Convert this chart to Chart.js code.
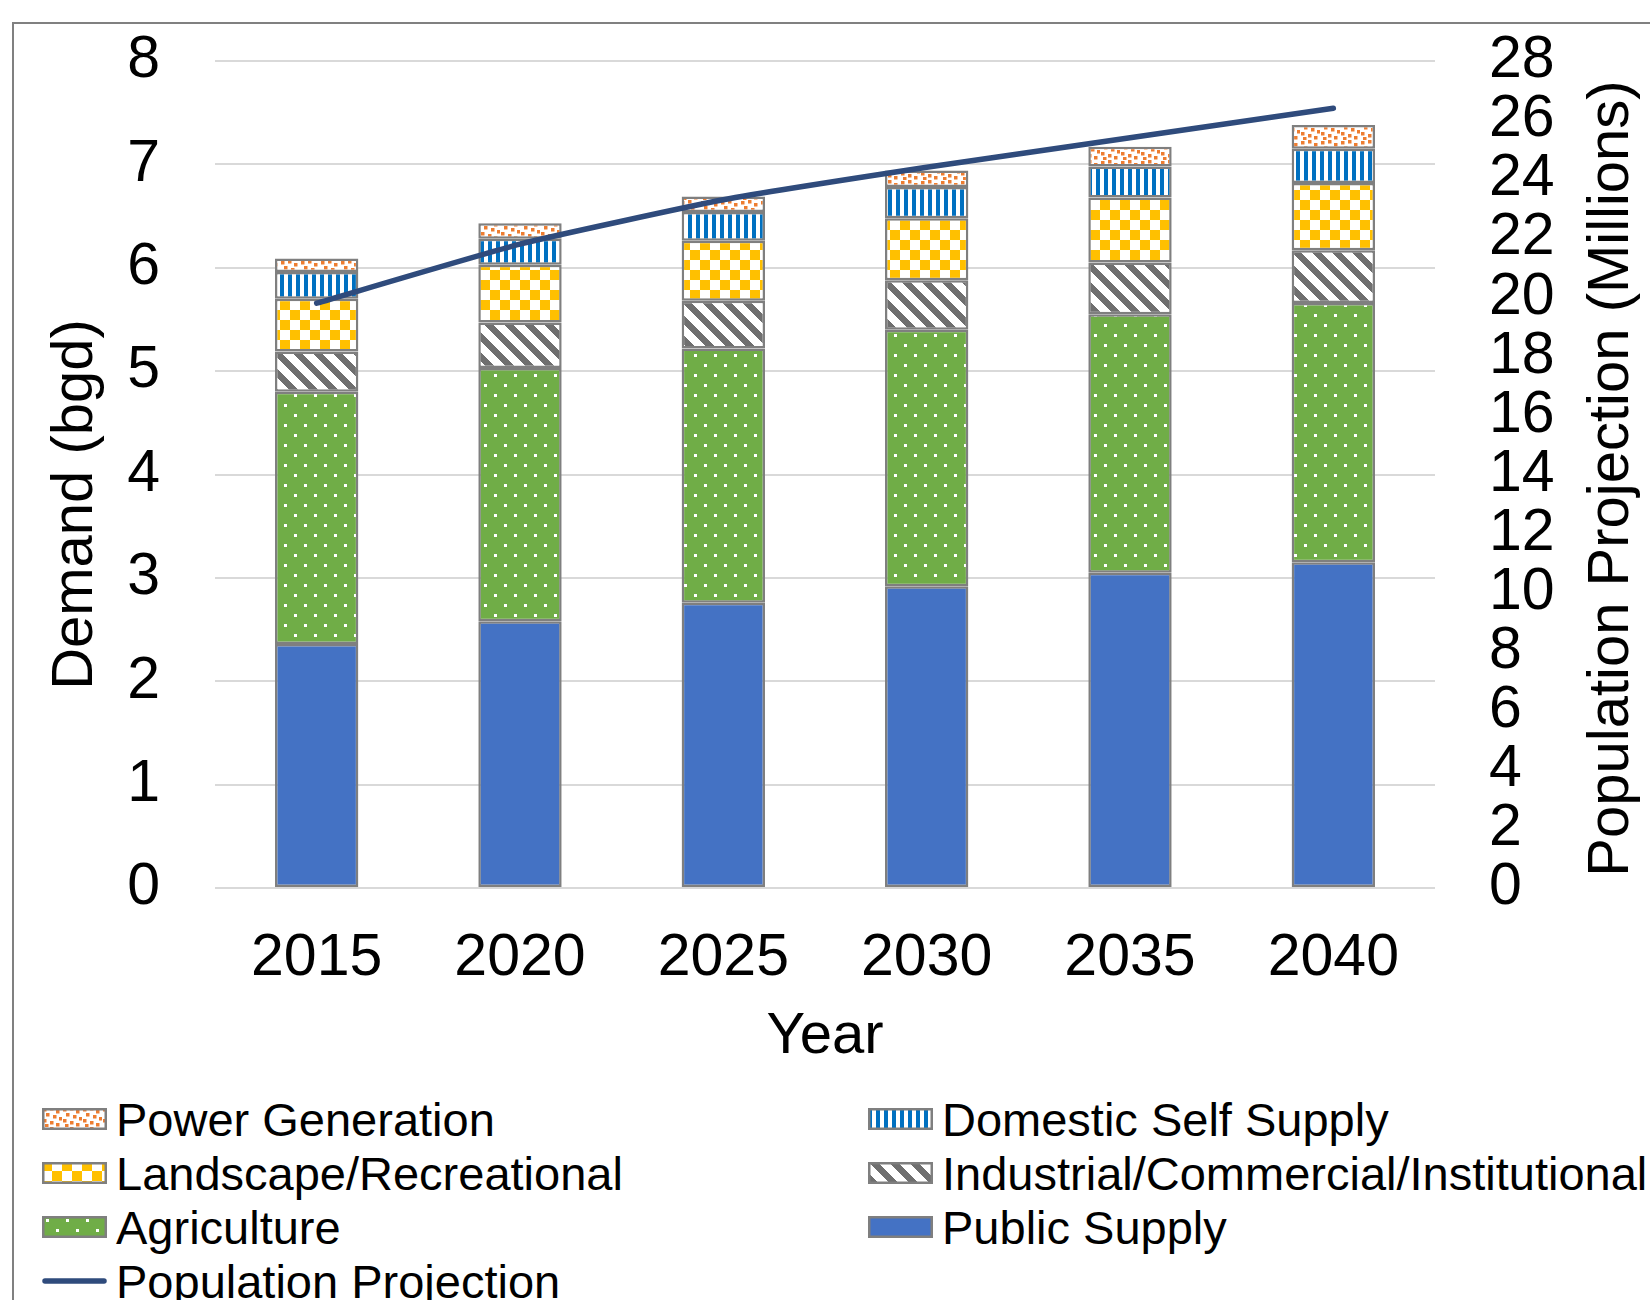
<!DOCTYPE html>
<html>
<head>
<meta charset="utf-8">
<script src="https://cdn.jsdelivr.net/npm/chart.js@4.4.1/dist/chart.umd.min.js"></script>
<style>
  html, body { margin: 0; padding: 0; background: #fff; width: 1650px; height: 1300px; overflow: hidden; }
  #frame { position: absolute; left: 12px; top: 22px; width: 1700px; height: 1400px;
           border-left: 2px solid #808080; border-top: 2px solid #808080; }
  #chart { position: absolute; left: 0; top: 0; }
  .lg-item { position: absolute; height: 54px; display: flex; align-items: center;
             font-family: "Liberation Sans", Arial, sans-serif; font-size: 47px; color: #000; white-space: nowrap; }
  .lg-item canvas { margin-right: 9px; }
</style>
</head>
<body>
<div id="frame"></div>
<canvas id="chart" width="1650" height="1072"></canvas>
<div id="legend"></div>
<script>
// ---- Data ----
const years = ['2015', '2020', '2025', '2030', '2035', '2040'];
const publicSupply = [2.36, 2.58, 2.76, 2.92, 3.05, 3.15];
const agriculture = [2.44, 2.45, 2.46, 2.48, 2.50, 2.51];
const industrial = [0.39, 0.44, 0.46, 0.48, 0.50, 0.51];
const landscape = [0.51, 0.56, 0.58, 0.60, 0.63, 0.65];
const domestic = [0.26, 0.25, 0.28, 0.30, 0.30, 0.33];
const powerGen = [0.13, 0.15, 0.15, 0.16, 0.19, 0.23];
const population = [19.8, 21.8, 23.3, 24.4, 25.4, 26.4];
const leftTicks = [0, 1, 2, 3, 4, 5, 6, 7, 8];
const rightTicks = [0, 2, 4, 6, 8, 10, 12, 14, 16, 18, 20, 22, 24, 26, 28];

const FONT = '"Liberation Sans", Arial, sans-serif';

// ---- Patterns ----
function makeTile(kind) {
  const c = document.createElement('canvas');
  const g = c.getContext('2d');
  if (kind === 'confetti') {
    c.width = 20; c.height = 20;
    g.fillStyle = '#ffffff'; g.fillRect(0, 0, 20, 20);
    g.fillStyle = '#ED7D31';
    [[1, 1], [8, 0], [14, 3], [4, 6], [11, 8], [17, 10], [1, 12], [8, 14], [14, 16], [3, 17]]
      .forEach(([x, y]) => g.fillRect(x, y, 3.5, 3.5));
  } else if (kind === 'vstripe') {
    c.width = 8; c.height = 8;
    g.fillStyle = '#ffffff'; g.fillRect(0, 0, 8, 8);
    g.fillStyle = '#0070C0'; g.fillRect(0, 0, 4, 8);
  } else if (kind === 'checker') {
    c.width = 20; c.height = 20;
    g.fillStyle = '#ffffff'; g.fillRect(0, 0, 20, 20);
    g.fillStyle = '#FFC000'; g.fillRect(0, 0, 10, 10); g.fillRect(10, 10, 10, 10);
  } else if (kind === 'diag') {
    c.width = 20; c.height = 20;
    g.fillStyle = '#ffffff'; g.fillRect(0, 0, 20, 20);
    g.fillStyle = '#6f6f6f';
    for (let y = 0; y < 20; y++) {
      for (let x = 0; x < 20; x++) {
        if ((((x - y) % 20) + 20) % 20 < 9) g.fillRect(x, y, 1, 1);
      }
    }
  } else if (kind === 'dots') {
    c.width = 20; c.height = 20;
    g.fillStyle = '#70AD47'; g.fillRect(0, 0, 20, 20);
    g.fillStyle = '#ffffff'; g.fillRect(4, 4, 3, 3); g.fillRect(14, 14, 3, 3);
  } else {
    c.width = 4; c.height = 4;
    g.fillStyle = '#4472C4'; g.fillRect(0, 0, 4, 4);
  }
  return c;
}
const ctx = document.getElementById('chart').getContext('2d');
function pat(kind) { return ctx.createPattern(makeTile(kind), 'repeat'); }

const BORDER = '#7f7f7f';
const barBase = { type: 'bar', yAxisID: 'y', borderColor: BORDER, borderWidth: 2.5, borderSkipped: false,
                  barPercentage: 0.41, categoryPercentage: 1.0, order: 1 };

const seriesDefs = [
  { label: 'Public Supply', data: publicSupply, kind: 'solid' },
  { label: 'Agriculture', data: agriculture, kind: 'dots' },
  { label: 'Industrial/Commercial/Institutional', data: industrial, kind: 'diag' },
  { label: 'Landscape/Recreational', data: landscape, kind: 'checker' },
  { label: 'Domestic Self Supply', data: domestic, kind: 'vstripe' },
  { label: 'Power Generation', data: powerGen, kind: 'confetti' }
];

const datasets = seriesDefs.map(s => Object.assign({}, barBase, {
  label: s.label, data: s.data,
  backgroundColor: s.kind === 'solid' ? '#4472C4' : pat(s.kind)
}));
datasets.push({
  type: 'line', label: 'Population Projection', data: population, yAxisID: 'y2',
  borderColor: '#2F4B7C', borderWidth: 5.5, pointRadius: 0, tension: 0.15, fill: false,
  borderCapStyle: 'round', order: 0
});

const TITLE_SIZE = 58;
const titlePlugin = {
  id: 'axisTitles',
  afterDraw(chart) {
    const c = chart.ctx, a = chart.chartArea;
    c.save();
    c.font = TITLE_SIZE + 'px ' + FONT;
    c.fillStyle = '#000';
    c.textAlign = 'center';
    c.textBaseline = 'middle';
    c.translate(a.left - 139, (a.top + a.bottom) / 2 + 30);
    c.rotate(-Math.PI / 2);
    c.fillText('Demand (bgd)', 0, 0);
    c.restore();
    c.save();
    c.font = TITLE_SIZE + 'px ' + FONT;
    c.fillStyle = '#000';
    c.textAlign = 'center';
    c.textBaseline = 'middle';
    c.translate(a.right + 177, (a.top + a.bottom) / 2 + 4);
    c.rotate(-Math.PI / 2);
    c.fillText('Population Projection (Millions)', 0, 0);
    c.restore();
  }
};

function fixY(s) { s.width = 215; s.paddingTop = 20; s.paddingBottom = 20; }

new Chart(ctx, {
  data: { labels: years, datasets: datasets },
  options: {
    responsive: false,
    animation: false,
    layout: { padding: { top: 61, left: 0, right: 0, bottom: 0 } },
    plugins: { legend: { display: false }, tooltip: { enabled: false } },
    scales: {
      x: {
        stacked: true,
        grid: { display: false, drawTicks: false },
        border: { display: false },
        ticks: { color: '#000', font: { family: FONT, size: 59 }, padding: 35 },
        title: { display: true, text: 'Year', color: '#000', font: { family: FONT, size: TITLE_SIZE }, padding: 0 },
        afterFit: s => { s.height = 184; }
      },
      y: {
        stacked: true, position: 'left', min: 0, max: 8,
        afterBuildTicks: s => { s.ticks = leftTicks.map(v => ({ value: v })); },
        ticks: { color: '#000', font: { family: FONT, size: 59 }, padding: 55, autoSkip: false },
        grid: { color: '#d9d9d9', lineWidth: 2, drawTicks: false },
        border: { display: false },
        afterFit: fixY
      },
      y2: {
        position: 'right', min: 0, max: 28,
        afterBuildTicks: s => { s.ticks = rightTicks.map(v => ({ value: v })); },
        ticks: { color: '#000', font: { family: FONT, size: 59, lineHeight: 1 }, padding: 54, autoSkip: false },
        grid: { display: false, drawTicks: false },
        border: { display: false },
        afterFit: fixY
      }
    }
  },
  plugins: [titlePlugin]
});

// ---- HTML legend ----
const legendOrder = [
  ['Power Generation', 'confetti', 0, 0], ['Domestic Self Supply', 'vstripe', 1, 0],
  ['Landscape/Recreational', 'checker', 0, 1], ['Industrial/Commercial/Institutional', 'diag', 1, 1],
  ['Agriculture', 'dots', 0, 2], ['Public Supply', 'solid', 1, 2],
  ['Population Projection', 'line', 0, 3]
];
const colX = [42, 868];
const rowY = [1092, 1146, 1200, 1254];
const lg = document.getElementById('legend');
legendOrder.forEach(([label, kind, col, row]) => {
  const div = document.createElement('div');
  div.className = 'lg-item';
  div.style.left = colX[col] + 'px';
  div.style.top = rowY[row] + 'px';
  const sw = document.createElement('canvas');
  sw.width = 65; sw.height = 24;
  const g = sw.getContext('2d');
  if (kind === 'line') {
    g.strokeStyle = '#2F4B7C'; g.lineWidth = 5.5; g.lineCap = 'round';
    g.beginPath(); g.moveTo(3, 12); g.lineTo(62, 12); g.stroke();
  } else {
    g.fillStyle = kind === 'solid' ? '#4472C4' : g.createPattern(makeTile(kind), 'repeat');
    g.fillRect(0, 1, 65, 22);
    g.strokeStyle = BORDER; g.lineWidth = 2.5;
    g.strokeRect(1.25, 2.25, 62.5, 19.5);
  }
  div.appendChild(sw);
  const sp = document.createElement('span');
  sp.textContent = label;
  div.appendChild(sp);
  lg.appendChild(div);
});
</script>
</body>
</html>
